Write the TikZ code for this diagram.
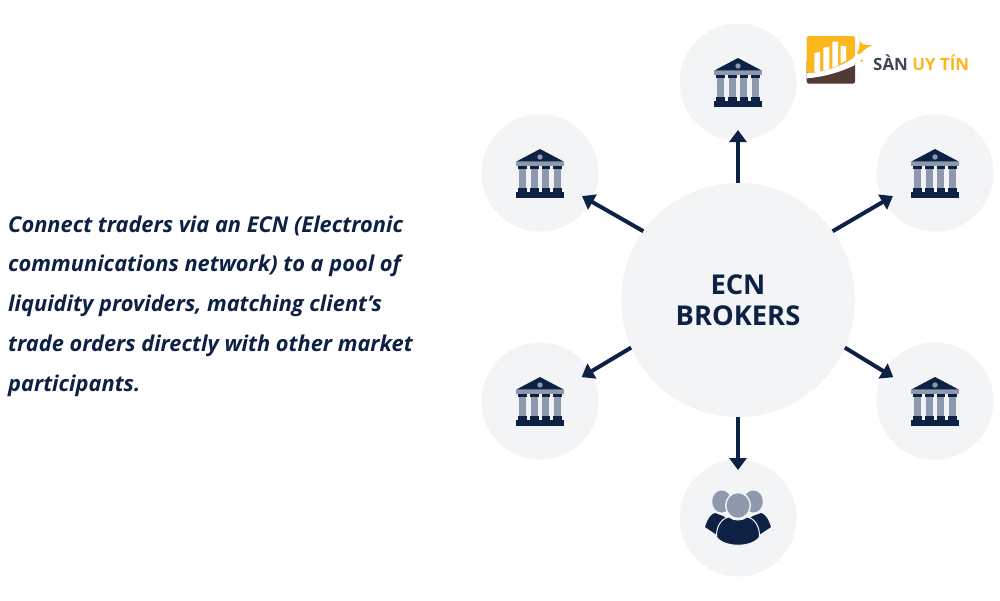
\documentclass[tikz,border=0pt]{standalone}
\usepackage{fontspec}
\setmainfont{Open Sans}
\usetikzlibrary{arrows.meta}
\definecolor{navy}{HTML}{0D2145}
\definecolor{pale}{HTML}{F2F4F6}
\definecolor{slate}{HTML}{8E99AE}
\definecolor{logoorange}{HTML}{FDB61C}
\definecolor{logobrown}{HTML}{503C34}
\definecolor{logogray}{HTML}{3F4450}
\tikzset{
  x=1pt,y=-1pt,
  disc/.style={circle,fill=pale,minimum size=117pt,inner sep=0pt,outer sep=0pt},
  hubdisc/.style={circle,fill=pale,minimum size=234pt,inner sep=0pt,outer sep=0pt,align=center,text=navy,
     font=\fontsize{27.3}{31}\selectfont\bfseries},
  link/.style={draw=navy,line width=4pt,-{Triangle[width=17pt,length=12pt]},shorten >=-10.5pt},
  bank/.pic={
    \fill[navy] (0,-24) -- (24,-11.3) -- (-24,-11.3) -- cycle;
    \fill[slate] (0,-16) circle (2.7);
    \fill[slate] (-24,-11.3) rectangle (24,-7);
    \foreach \c in {-17.5,-5.8,5.8,17.5}{
      \fill[navy] (\c-4.3,-7) rectangle (\c+4.3,-3.7);
      \fill[slate] (\c-3.4,-3.7) rectangle (\c+3.4,15);
      \fill[navy] (\c-4.3,15) rectangle (\c+4.3,19.5);
    }
    \fill[navy] (-24,19) rectangle (24,24.7);
  },
  crowd/.pic={
    \fill[slate] (-16.3,-16.5) ellipse (9.5 and 11);
    \fill[slate] (15.3,-16.5) ellipse (9.5 and 11);
    \fill[navy] (-33,9) .. controls (-30,0) and (-27,-4) .. (-23,-5)
       -- (-15,-2) -- (-12,0) .. controls (-19,3) and (-22,10) .. (-21,17) -- cycle;
    \fill[navy] (33,9) .. controls (30,0) and (27,-4) .. (23,-5)
       -- (15,-2) -- (12,0) .. controls (19,3) and (22,10) .. (21,17) -- cycle;
    \fill[navy,draw=pale,line width=1pt] (-21.5,19) .. controls (-22,8) and (-16,0) .. (-9,-1)
       .. controls (-4,3) and (4,3) .. (9,-1)
       .. controls (16,0) and (22,8) .. (21.5,19)
       .. controls (14,30) and (-14,30) .. (-21.5,19) -- cycle;
    \fill[slate,draw=pale,line width=1.4pt] (0,-12.5) ellipse (12.3 and 13);
  }
}
\begin{document}
\begin{tikzpicture}
\useasboundingbox (0,0) rectangle (1000,600);
\fill[white] (0,0) rectangle (1000,600);

\node[hubdisc] (hub) at (738,300) {ECN\\[0pt]BROKERS};
\node[disc] (t) at (738,82) {};
\node[disc] (ul) at (540,173) {};
\node[disc] (ur) at (935,173) {};
\node[disc] (ll) at (540,401) {};
\node[disc] (lr) at (935,401) {};
\node[disc] (b) at (738,518) {};

\draw[link] (hub.90) -- (t.-90);
\draw[link] (hub.144) -- (ul.-29);
\draw[link] (hub.36) -- (ur.209);
\draw[link] (hub.204) -- (ll.30);
\draw[link] (hub.-24) -- (lr.150);
\draw[link] (hub.-90) -- (b.90);

\pic at (t.center) {bank};
\pic at (ul.center) {bank};
\pic at (ur.center) {bank};
\pic at (ll.center) {bank};
\pic at (lr.center) {bank};
\pic at (b.center) {crowd};

\node[anchor=north west,inner sep=0pt,align=left,text=navy,
  font=\fontsize{21.8}{39.7}\selectfont\itshape\bfseries] (copy) at (8,215.5)
  {Connect traders via an ECN (Electronic\\
   communications network) to a pool of\\
   liquidity providers, matching client’s\\
   trade orders directly with other market\\
   participants.};

% logo
\fill[logobrown,rounded corners=1.5pt] (806.7,60) rectangle (855,83.5);
\fill[logoorange,rounded corners=1.5pt] (806.7,36) -- (855,36) -- (855,56.7)
   .. controls (843,66) and (825,72) .. (806.7,73.3) -- cycle;
\fill[white] (806.7,73.3) .. controls (825,72) and (843,66) .. (855,56.7)
   -- (855,65) .. controls (843,71) and (825,77) .. (806.7,78.3) -- cycle;
\fill[white] (814.3,53.3) -- (820,51.7) -- (820,71.6) -- (814.3,72.6) -- cycle;
\fill[white] (823.3,47.6) -- (829.3,46.6) -- (829.3,69.2) -- (823.3,70.6) -- cycle;
\fill[white] (832.3,41.9) -- (838,41.5) -- (838,65.8) -- (832.3,67.6) -- cycle;
\fill[white] (840.7,45.5) -- (846,46.3) -- (846,60.6) -- (840.7,63.2) -- cycle;
\fill[logoorange] (859.5,40) .. controls (861,44) and (864,46) .. (872.5,45)
   .. controls (867,47.5) and (864,50) .. (861,53)
   .. controls (859.5,54) and (858,55) .. (857,53)
   .. controls (859,50) and (860,46) .. (859.5,40) -- cycle;
\fill[logoorange] (861.7,60.7) circle (1.4);
\node[anchor=west,inner sep=0pt,font=\fontsize{16.9}{20}\selectfont\bfseries] (brand) at (873,62.7)
  {\textcolor{logogray}{SÀN} \textcolor{logoorange}{UY TÍN}};
\end{tikzpicture}
\end{document}
